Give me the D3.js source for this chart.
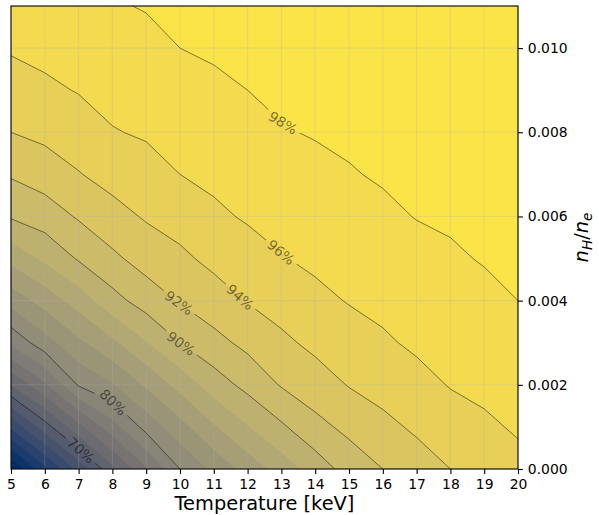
<!DOCTYPE html>
<html>
<head>
<meta charset="utf-8">
<script src="https://cdn.jsdelivr.net/npm/d3@7"></script>
<style>
    body { margin: 0; background: #fff; }
    text { font-family: "DejaVu Sans", sans-serif; fill: #000; }
</style>
</head>
<body>
<svg id="chart" width="599" height="515"></svg>
<script>
"use strict";

// grid columns: plasma temperature [keV]
var temperatures = [5, 6, 7, 8, 9, 10, 11, 12, 13, 14, 15, 16, 17, 18, 19, 20];

// grid rows: hydrogen fraction n_H/n_e
var ratios = [0.000, 0.001, 0.002, 0.003, 0.004, 0.005, 0.006, 0.007, 0.008, 0.009, 0.010, 0.011];

// efficiency [%], one row per ratio (bottom to top), one value per temperature
var efficiency = [
    [56.0, 61.5, 66.7, 71.5, 75.8, 80.0, 82.5, 84.8, 86.9, 88.9, 90.8, 92.0, 93.1, 94.0, 94.8, 95.5],
    [64.4, 69.1, 73.4, 77.2, 80.7, 83.3, 85.8, 87.9, 89.7, 91.4, 92.5, 93.5, 94.3, 95.1, 95.7, 96.2],
    [72.1, 75.7, 80.2, 81.85, 84.3, 86.7, 89.0, 90.6, 92.15, 93.1, 94.1, 94.7, 95.4, 96.1, 96.4, 96.8],
    [78.4, 81.2, 83.6, 85.6, 87.9, 90.0, 91.4, 92.5, 93.6, 94.45, 95.15, 95.75, 96.3, 96.7, 97.0, 97.4],
    [82.8, 84.8, 86.9, 89.3, 90.9, 92.15, 93.1, 94.1, 94.8, 95.55, 96.1, 96.45, 96.9, 97.25, 97.6, 98.0],
    [86.6, 88.4, 90.2, 91.6, 92.8, 93.6, 94.5, 95.2, 95.9, 96.35, 96.7, 97.1, 97.5, 97.8, 98.1, 98.2],
    [90.2, 91.0, 92.2, 93.3, 94.2, 94.8, 95.65, 96.2, 96.6, 96.95, 97.3, 97.7, 98.05, 98.2, 98.3, 98.45],
    [92.2, 92.9, 93.9, 94.7, 95.3, 96.0, 96.4, 96.8, 97.2, 97.6, 97.9, 98.15, 98.3, 98.4, 98.55, 98.65],
    [94.0, 94.5, 95.05, 95.9, 96.2, 96.7, 97.05, 97.4, 97.9, 98.1, 98.25, 98.45, 98.6, 98.7, 98.8, 98.9],
    [95.1, 95.65, 96.1, 96.55, 96.9, 97.3, 97.7, 98.0, 98.3, 98.45, 98.55, 98.7, 98.85, 98.95, 99.0, 99.1],
    [96.2, 96.5, 96.8, 97.2, 97.5, 98.0, 98.2, 98.4, 98.65, 98.75, 98.9, 99.0, 99.1, 99.2, 99.25, 99.35],
    [96.9, 97.2, 97.5, 97.85, 98.1, 98.4, 98.6, 98.8, 99.0, 99.1, 99.2, 99.3, 99.4, 99.45, 99.5, 99.55]
];

// filled bands and labelled contour lines
var fillLevels = [54, 56, 58, 60, 62, 64, 66, 68, 70, 72, 74, 76, 78, 80, 82, 84, 86, 88, 90, 92, 94, 96, 98, 100];
var lineLevels = [70, 80, 90, 92, 94, 96, 98];
// temperature at which each line carries its label
var labelTemps = [7.07, 8.02, 10.03, 9.97, 11.78, 12.99, 13.05];

var yTicks = [0.000, 0.002, 0.004, 0.006, 0.008, 0.010];


var margin = {left: 11, right: 81, top: 6, bottom: 46};
var width = 599, height = 515;

var svg = d3.select("#chart");

var x = d3.scaleLinear()
    .domain([temperatures[0], temperatures[temperatures.length - 1]])
    .range([margin.left, width - margin.right]);

var y = d3.scaleLinear()
    .domain([0, 0.011])
    .range([height - margin.bottom, margin.top]);

var nx = temperatures.length,
    ny = ratios.length;

// d3.contours puts sample i at grid coordinate i + 0.5
var gridX = d3.scaleLinear().domain([0.5, nx - 0.5]).range([temperatures[0], temperatures[nx - 1]]);
var gridY = d3.scaleLinear().domain([0.5, ny - 0.5]).range([ratios[0], ratios[ny - 1]]);

var path = d3.geoPath(d3.geoTransform({
    point: function (gx, gy) {
        this.stream.point(x(gridX(gx)), y(gridY(gy)));
    }
}));

var values = [];
efficiency.forEach(function (row) {
    row.forEach(function (v) { values.push(v); });
});

var defs = svg.append("defs");

defs.append("clipPath").attr("id", "plot-clip")
    .append("rect")
    .attr("x", x.range()[0])
    .attr("y", y.range()[1])
    .attr("width", x.range()[1] - x.range()[0])
    .attr("height", y.range()[0] - y.range()[1]);

//
// filled contours
//

var lo = fillLevels[0], hi = fillLevels[fillLevels.length - 1];
var bands = d3.contours().size([nx, ny]).thresholds(fillLevels.slice(0, -1))(values);

svg.append("g")
    .attr("clip-path", "url(#plot-clip)")
    .selectAll("path")
    .data(bands)
    .enter().append("path")
    .attr("d", path)
    .attr("fill", function (d, i) {
        var mid = (fillLevels[i] + fillLevels[i + 1]) / 2;
        return d3.interpolateCividis((mid - lo) / (hi - lo));
    })
    .attr("stroke", "none");

//
// grid
//

var grid = svg.append("g")
    .attr("stroke", "#b0b0b0")
    .attr("stroke-opacity", 0.25)
    .attr("stroke-width", 1.1);

temperatures.forEach(function (t) {
    grid.append("line")
        .attr("x1", x(t)).attr("x2", x(t))
        .attr("y1", y.range()[0]).attr("y2", y.range()[1]);
});
yTicks.forEach(function (r) {
    grid.append("line")
        .attr("x1", x.range()[0]).attr("x2", x.range()[1])
        .attr("y1", y(r)).attr("y2", y(r));
});

//
// contour lines with inline labels
//

var lines = d3.contours().size([nx, ny]).thresholds(lineLevels)(values);

function find_label_point(geom, gx) {
    var found = null;
    geom.coordinates.forEach(function (polygon) {
        polygon.forEach(function (ring) {
            for (var i = 1; i < ring.length; i++) {
                var a = ring[i - 1], b = ring[i];
                if (a[0] === b[0] || (a[0] - gx) * (b[0] - gx) > 0) continue;
                if (Math.min(a[1], b[1]) < 0.5 || Math.max(a[1], b[1]) > ny - 0.5) continue;
                var t = (gx - a[0]) / (b[0] - a[0]);
                found = {a: a, b: b, gy: a[1] + t * (b[1] - a[1])};
            }
        });
    });
    return found;
}

var labelGroup = svg.append("g");
var mask = defs.append("mask")
    .attr("id", "label-gaps")
    .attr("maskUnits", "userSpaceOnUse")
    .attr("x", 0).attr("y", 0)
    .attr("width", width).attr("height", height);
mask.append("rect")
    .attr("width", width).attr("height", height)
    .attr("fill", "white");

lines.forEach(function (geom, i) {
    var t = labelTemps[i];
    var gx = gridX.invert(t);
    var hit = find_label_point(geom, gx);
    if (!hit) return;

    var px = x(t), py = y(gridY(hit.gy));
    var ax = x(gridX(hit.a[0])), ay = y(gridY(hit.a[1]));
    var bx = x(gridX(hit.b[0])), by = y(gridY(hit.b[1]));
    if (bx < ax) { var tx = ax; ax = bx; bx = tx; var ty = ay; ay = by; by = ty; }
    var angle = Math.atan2(by - ay, bx - ax) * 180 / Math.PI;

    var label = labelGroup.append("text")
        .attr("transform", "translate(" + px + "," + py + ") rotate(" + angle + ")")
        .attr("text-anchor", "middle")
        .attr("dy", "0.36em")
        .style("font-size", "13.9px")
        .style("fill", "#000")
        .style("fill-opacity", 0.5)
        .text(geom.value + "%");

    var w = label.node().getComputedTextLength();
    mask.append("rect")
        .attr("transform", "translate(" + px + "," + py + ") rotate(" + angle + ")")
        .attr("x", -w / 2 - 4)
        .attr("y", -7)
        .attr("width", w + 8)
        .attr("height", 14)
        .attr("fill", "black");
});

svg.insert("g", function () { return labelGroup.node(); })
    .attr("clip-path", "url(#plot-clip)")
    .append("g")
    .attr("mask", "url(#label-gaps)")
    .selectAll("path")
    .data(lines)
    .enter().append("path")
    .attr("d", path)
    .attr("fill", "none")
    .attr("stroke", "#000")
    .attr("stroke-opacity", 0.6)
    .attr("stroke-width", 0.8);

//
// axes
//

var xAxis = d3.axisBottom(x)
    .tickValues(temperatures)
    .tickFormat(d3.format("d"))
    .tickSize(4.9)
    .tickPadding(4.9);

var yAxis = d3.axisRight(y)
    .tickValues(yTicks)
    .tickFormat(d3.format(".3f"))
    .tickSize(4.9)
    .tickPadding(4.9);

var gx_axis = svg.append("g")
    .attr("transform", "translate(0," + y.range()[0] + ")")
    .call(xAxis);

var gy_axis = svg.append("g")
    .attr("transform", "translate(" + x.range()[1] + ",0)")
    .call(yAxis);

[gx_axis, gy_axis].forEach(function (g) {
    g.select(".domain").remove();
    g.selectAll(".tick line").attr("stroke", "#000").attr("stroke-width", 1.1);
    g.selectAll(".tick text")
        .style("font-family", "'DejaVu Sans', sans-serif")
        .style("font-size", "13.9px");
});

// spines
svg.append("rect")
    .attr("x", x.range()[0])
    .attr("y", y.range()[1])
    .attr("width", x.range()[1] - x.range()[0])
    .attr("height", y.range()[0] - y.range()[1])
    .attr("fill", "none")
    .attr("stroke", "#000")
    .attr("stroke-width", 1.1);

// axis labels
svg.append("text")
    .attr("x", (x.range()[0] + x.range()[1]) / 2)
    .attr("y", 510)
    .attr("text-anchor", "middle")
    .style("font-size", "19.4px")
    .text("Temperature [keV]");

var ylabel = svg.append("text")
    .attr("transform", "translate(588," + (y.range()[0] + y.range()[1]) / 2 + ") rotate(-90)")
    .attr("text-anchor", "middle")
    .style("font-size", "19.4px");
ylabel.append("tspan").style("font-style", "italic").text("n");
ylabel.append("tspan").attr("dy", 3.5).style("font-style", "italic").style("font-size", "13.6px").text("H");
ylabel.append("tspan").attr("dy", -3.5).text("/");
ylabel.append("tspan").style("font-style", "italic").text("n");
ylabel.append("tspan").attr("dy", 3.5).style("font-style", "italic").style("font-size", "13.6px").text("e");
</script>
</body>
</html>
